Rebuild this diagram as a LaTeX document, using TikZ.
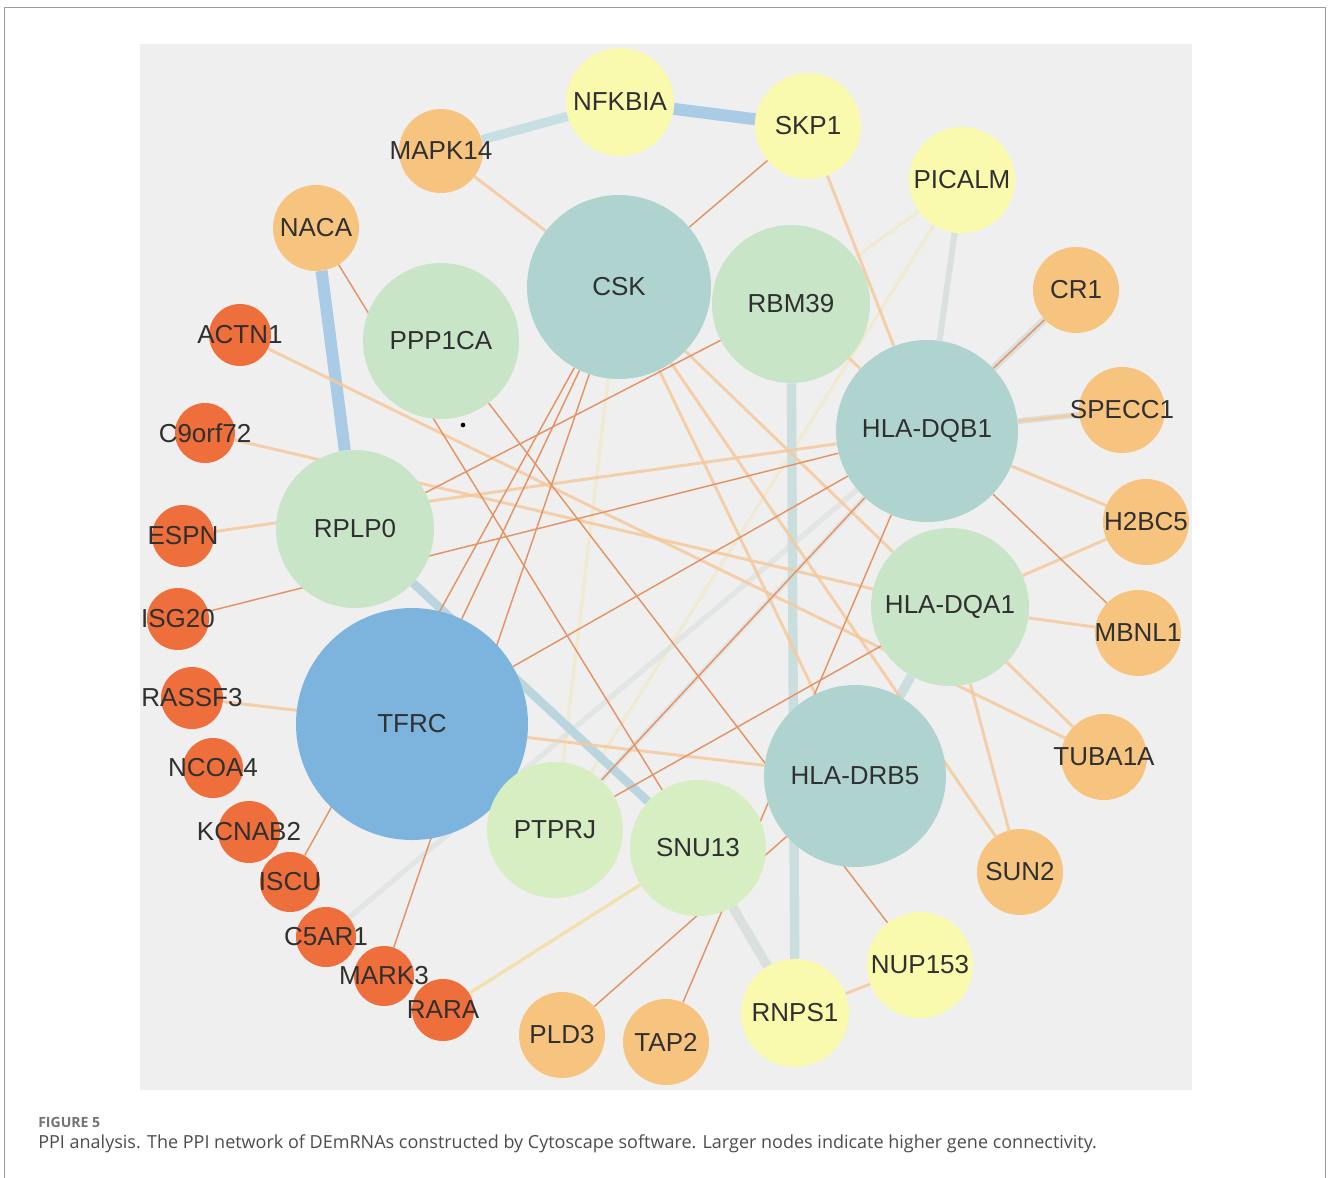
\documentclass[tikz,border=0pt]{standalone}
\usepackage{fontspec}
\usepackage{graphicx}
\newfontfamily\labfont{Liberation Sans}
\newfontfamily\capfont{Open Sans}
\pgfdeclarelayer{bglayer}
\pgfdeclarelayer{edgelayer}
\pgfsetlayers{bglayer,edgelayer,main}
\definecolor{plotbg}{HTML}{EFEFEF}
\definecolor{framec}{HTML}{9C9C9C}
\definecolor{yel}{HTML}{FAFAAF}
\definecolor{org}{HTML}{F7C480}
\definecolor{red}{HTML}{EE6E3C}
\definecolor{teal}{HTML}{AFD4D0}
\definecolor{grn}{HTML}{C8E5C8}
\definecolor{lgrn}{HTML}{D7EEC3}
\definecolor{blu}{HTML}{7DB4DE}
\definecolor{labc}{HTML}{303030}
\definecolor{ethin}{HTML}{E39466}
\definecolor{elight}{HTML}{F6C99C}
\definecolor{eblue}{HTML}{A9CBE6}
\definecolor{eteal}{HTML}{CADEDD}
\definecolor{egray}{HTML}{D9E0DD}
\definecolor{eyel}{HTML}{F2E6B0}
\definecolor{eyel2}{HTML}{F5DDA0}
\definecolor{eblue2}{HTML}{BBD5DF}
\definecolor{eteal2}{HTML}{C7DFE2}
\tikzset{
  lbl/.style={font=\labfont\fontsize{19.5}{20}\selectfont, text=labc, inner sep=0pt},
  gn/.style n args={3}{circle, fill=#1, draw=none, minimum size=#2*1.5pt, inner sep=0pt, label={[lbl]center:#3}},
  thinE/.style={draw=ethin, line width=1.1pt},
  lightE/.style={draw=elight, line width=2.2pt, opacity=0.85},
  blueE/.style={draw=eblue, line width=9pt},
  tealE/.style={draw=eteal, line width=7pt},
  grayE/.style={draw=egray, line width=4.5pt},
  faintE/.style={draw=egray, line width=4pt, opacity=0.6},
  yelE/.style={draw=eyel, line width=2.5pt, opacity=0.45},
}
\begin{document}
\begin{tikzpicture}[x=0.75pt,y=-0.75pt]
\useasboundingbox (0,0) rectangle (1328,1178);
\begin{pgfonlayer}{bglayer}
  \fill[white] (0,0) rectangle (1328,1178);
  \fill[plotbg] (140,44) rectangle (1192,1090);
  \draw[framec, line width=1.2pt] (4.5,1178) -- (4.5,7.5) -- (1325.5,7.5) -- (1325.5,1178);
\end{pgfonlayer}

% nodes
\node[gn={yel}{54}{NFKBIA}] (nfkbia) at (620,102) {};
\node[gn={yel}{53}{SKP1}] (skp1) at (808,126) {};
\node[gn={org}{42}{MAPK14}] (mapk14) at (441,151) {};
\node[gn={org}{43}{NACA}] (naca) at (316,228) {};
\node[gn={yel}{53}{PICALM}] (picalm) at (962,180) {};
\node[gn={teal}{92}{CSK}] (csk) at (619,287) {};
\node[gn={grn}{78}{PPP1CA}] (ppp1ca) at (441,341) {};
\node[gn={grn}{79}{RBM39}] (rbm39) at (791,304) {};
\node[gn={org}{43}{CR1}] (cr1) at (1076,290) {};
\node[gn={teal}{91}{HLA-DQB1}] (dqb1) at (927,431) {};
\node[gn={org}{43}{SPECC1}] (specc1) at (1122,410) {};
\node[gn={red}{31}{ACTN1}] (actn1) at (240,335) {};
\node[gn={red}{30}{C9orf72}] (c9orf72) at (205,433) {};
\node[gn={grn}{79}{RPLP0}] (rplp0) at (355,529) {};
\node[gn={red}{31}{ESPN}] (espn) at (183,536) {};
\node[gn={red}{31}{ISG20}] (isg20) at (178,619) {};
\node[gn={red}{31}{RASSF3}] (rassf3) at (192,698) {};
\node[gn={red}{30}{NCOA4}] (ncoa4) at (213,768) {};
\node[gn={blu}{116}{TFRC}] (tfrc) at (412,724) {};
\node[gn={red}{31}{KCNAB2}] (kcnab2) at (249,832) {};
\node[gn={red}{30}{ISCU}] (iscu) at (290,882) {};
\node[gn={red}{30}{C5AR1}] (c5ar1) at (326,937) {};
\node[gn={red}{30}{MARK3}] (mark3) at (384,976) {};
\node[gn={red}{31}{RARA}] (rara) at (443,1010) {};
\node[gn={org}{43}{PLD3}] (pld3) at (562,1035) {};
\node[gn={org}{43}{TAP2}] (tap2) at (666,1042) {};
\node[gn={lgrn}{68}{PTPRJ}] (ptprj) at (555,830) {};
\node[gn={lgrn}{68}{SNU13}] (snu13) at (698,848) {};
\node[gn={teal}{91}{HLA-DRB5}] (drb5) at (855,776) {};
\node[gn={grn}{79}{HLA-DQA1}] (dqa1) at (950,607) {};
\node[gn={org}{43}{H2BC5}] (h2bc5) at (1146,522) {};
\node[gn={org}{43}{MBNL1}] (mbnl1) at (1138,633) {};
\node[gn={org}{43}{TUBA1A}] (tuba1a) at (1104,757) {};
\node[gn={org}{43}{SUN2}] (sun2) at (1020,872) {};
\node[gn={yel}{53}{NUP153}] (nup153) at (920,965) {};
\node[gn={yel}{54}{RNPS1}] (rnps1) at (795,1013) {};
\node[circle, fill=black, inner sep=0pt, minimum size=3.5pt] (dot) at (463,425) {};

% edges
\begin{pgfonlayer}{edgelayer}
  % faint yellow
  \draw[yelE] (csk) -- (ptprj);
  \draw[yelE] (picalm) -- (ptprj);
  \draw[yelE] (picalm) -- (rbm39);
  \draw[yelE, draw=eyel2, opacity=0.8] (rara) -- (snu13);
  % gray / teal thick
  \draw[faintE] (c5ar1) -- (dqb1);
  \draw[faintE] (dqb1) -- (ptprj);
  \draw[grayE] (picalm) -- (dqb1);
  \draw[grayE, line width=5.5pt] (cr1) -- (dqb1);
  \draw[grayE] (specc1) -- (dqb1);
  \draw[tealE] (rbm39) -- (rnps1);
  \draw[tealE, draw=egray] (snu13) -- (rnps1);
  \draw[tealE] (dqa1) -- (drb5);
  \draw[tealE, draw=eblue2, line width=6.5pt] (rplp0) -- (snu13);
  \draw[tealE, draw=eteal2] (mapk14) -- (nfkbia);
  \draw[blueE] (nfkbia) -- (skp1);
  \draw[blueE] (naca) -- (rplp0);
  % light orange
  \draw[lightE] (mapk14) -- (csk);
  \draw[lightE] (skp1) -- (dqb1);
  \draw[lightE] (actn1) -- (tuba1a);
  \draw[lightE] (c9orf72) -- (dqa1);
  \draw[lightE] (espn) -- (dqb1);
  \draw[lightE] (csk) -- (drb5);
  \draw[lightE] (csk) -- (dqa1);
  \draw[lightE] (csk) -- (sun2);
  \draw[lightE] (dqa1) -- (sun2);
  \draw[lightE] (dqa1) -- (tuba1a);
  \draw[lightE] (dqa1) -- (mbnl1);
  \draw[lightE] (dqa1) -- (h2bc5);
  \draw[lightE] (dqb1) -- (h2bc5);
  \draw[lightE] (dqb1) -- (specc1);
  \draw[lightE] (rbm39) -- (dqb1);
  \draw[lightE] (rassf3) -- (drb5);
  \draw[lightE] (rnps1) -- (nup153);
  % thin orange
  \draw[thinE] (skp1) -- (csk);
  \draw[thinE] (naca) -- (snu13);
  \draw[thinE] (isg20) -- (dqb1);
  \draw[thinE] (rplp0) -- (rbm39);
  \draw[thinE] (csk) -- (tfrc);
  \draw[thinE] (csk) -- (mark3);
  \draw[thinE] (iscu) -- (csk);
  \draw[thinE] (ppp1ca) -- (nup153);
  \draw[thinE] (tfrc) -- (dqb1);
  \draw[thinE] (dqb1) -- (ptprj);
  \draw[thinE] (dqa1) -- (ptprj);
  \draw[thinE] (dqb1) -- (cr1);
  \draw[thinE] (dqb1) -- (mbnl1);
  \draw[thinE] (pld3) -- (drb5);
  \draw[thinE] (tap2) -- (dqb1);
\end{pgfonlayer}

% caption
\node[anchor=west, inner sep=0pt, text=black!55] (figlab) at (38,1122) {\resizebox{46.5pt}{!}{\capfont\bfseries FIGURE 5}};
\node[anchor=west, inner sep=0pt, text=black!70] (figcap) at (38,1144) {\resizebox{794pt}{!}{\capfont\fontsize{13.5}{16}\selectfont PPI analysis. The PPI network of DEmRNAs constructed by Cytoscape software. Larger nodes indicate higher gene connectivity.}};
\end{tikzpicture}
\end{document}
